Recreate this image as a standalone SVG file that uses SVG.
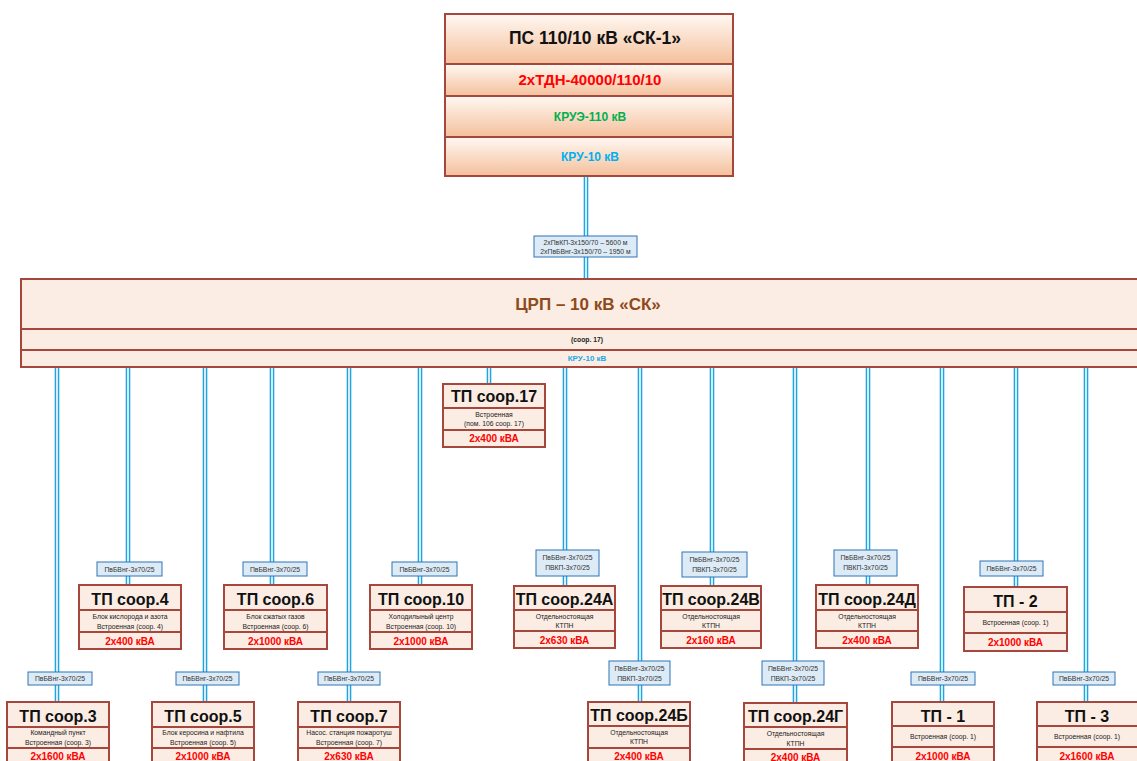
<svg xmlns="http://www.w3.org/2000/svg" width="1137" height="761" viewBox="0 0 1137 761">
<style>
text{font-family:"Liberation Sans",Arial,sans-serif;text-anchor:middle}
.box{fill:#FBEDE3;stroke:#A5473C;stroke-width:2}
.dv{stroke:#A5473C;stroke-width:2}
.sec{stroke:#A5473C;stroke-width:2;fill:url(#peach)}
.t{font-size:16px;font-weight:bold;fill:#111}
.s{font-size:6.8px;fill:#222}
.v{font-size:10px;font-weight:bold;fill:#FF0000}
.lb{fill:#DDEBF7;stroke:#2E75B6;stroke-width:1}
.lt{font-size:6.8px;fill:#333}
.c1{stroke:#1DA6E0;stroke-width:4.6;fill:none}
.c2{stroke:#FFFFFF;stroke-width:1.6;fill:none}
</style>
<defs>
<linearGradient id="peach" x1="0" y1="0" x2="0" y2="1">
<stop offset="0" stop-color="#FFF8F3"/>
<stop offset="1" stop-color="#F4C09B"/>
</linearGradient>
</defs>
<rect width="1137" height="761" fill="#FFFFFF"/>

<g id="connectors">
<path class="c1" d="M586 176V279M57 367V702M128 367V585M205 367V702M272 367V585M349 367V702M420 367V585M489 367V384M565 367V585M640 367V702M712 367V585M795 367V702M868 367V585M942 367V702M1016 367V587M1086 367V702"/>
<path class="c2" d="M586 176V279M57 367V702M128 367V585M205 367V702M272 367V585M349 367V702M420 367V585M489 367V384M565 367V585M640 367V702M712 367V585M795 367V702M868 367V585M942 367V702M1016 367V587M1086 367V702"/>
<g id="cable-labels">
<rect class="lb" x="534" y="236" width="103" height="21"/>
<text class="lt" x="585.5" y="244.5">2хПвКП-3х150/70 – 5600 м</text>
<text class="lt" x="585.5" y="253.5">2хПвБВнг-3х150/70 – 1950 м</text>
<rect class="lb" x="97" y="562" width="65" height="14"/><text class="lt" x="129.5" y="571.5">ПвБВнг-3х70/25</text>
<rect class="lb" x="243" y="562" width="64" height="14"/><text class="lt" x="275" y="571.5">ПвБВнг-3х70/25</text>
<rect class="lb" x="392" y="562" width="65" height="14"/><text class="lt" x="424.5" y="571.5">ПвБВнг-3х70/25</text>
<rect class="lb" x="536" y="550" width="63" height="26"/><text class="lt" x="567.5" y="560">ПвБВнг-3х70/25</text><text class="lt" x="567.5" y="570">ПВКП-3х70/25</text>
<rect class="lb" x="682" y="552" width="65" height="25"/><text class="lt" x="714.5" y="562">ПвБВнг-3х70/25</text><text class="lt" x="714.5" y="572">ПВКП-3х70/25</text>
<rect class="lb" x="834" y="550" width="63" height="26"/><text class="lt" x="865.5" y="560">ПвБВнг-3х70/25</text><text class="lt" x="865.5" y="570">ПВКП-3х70/25</text>
<rect class="lb" x="980" y="561" width="63" height="15"/><text class="lt" x="1011.5" y="571">ПвБВнг-3х70/25</text>
<rect class="lb" x="28" y="672" width="64" height="13"/><text class="lt" x="60" y="681">ПвБВнг-3х70/25</text>
<rect class="lb" x="176" y="672" width="63" height="13"/><text class="lt" x="207.5" y="681">ПвБВнг-3х70/25</text>
<rect class="lb" x="318" y="672" width="62" height="13"/><text class="lt" x="349" y="681">ПвБВнг-3х70/25</text>
<rect class="lb" x="609" y="661" width="61" height="24"/><text class="lt" x="639.5" y="670.5">ПвБВнг-3х70/25</text><text class="lt" x="639.5" y="680.5">ПВКП-3х70/25</text>
<rect class="lb" x="762" y="661" width="62" height="24"/><text class="lt" x="793" y="670.5">ПвБВнг-3х70/25</text><text class="lt" x="793" y="680.5">ПВКП-3х70/25</text>
<rect class="lb" x="911" y="672" width="64" height="13"/><text class="lt" x="943" y="681">ПвБВнг-3х70/25</text>
<rect class="lb" x="1053" y="672" width="62" height="13"/><text class="lt" x="1084" y="681">ПвБВнг-3х70/25</text>
</g>
</g>

<g id="ps-110">
<rect class="sec" x="445" y="14" width="288" height="50"/>
<rect class="sec" x="445" y="64" width="288" height="32"/>
<rect class="sec" x="445" y="96" width="288" height="41"/>
<rect class="sec" x="445" y="137" width="288" height="39"/>
<text x="595" y="44" style="font-size:17.5px;font-weight:bold;fill:#111">ПС 110/10 кВ «СК-1»</text>
<text x="590" y="85" style="font-size:15px;font-weight:bold;fill:#FF0000">2хТДН-40000/110/10</text>
<text x="590" y="121" style="font-size:12px;font-weight:bold;fill:#00B050">КРУЭ-110 кВ</text>
<text x="590" y="161" style="font-size:12px;font-weight:bold;fill:#00B0F0">КРУ-10 кВ</text>
</g>

<g id="crp">
<rect class="box" x="21" y="279" width="1125" height="88"/>
<line class="dv" x1="21" y1="329" x2="1137" y2="329"/>
<line class="dv" x1="21" y1="350" x2="1137" y2="350"/>
<text x="588" y="310" style="font-size:17px;font-weight:bold;fill:#8E4A1C">ЦРП – 10 кВ «СК»</text>
<text x="587" y="342" style="font-size:6.8px;font-weight:bold;fill:#222">(соор. 17)</text>
<text x="587" y="361" style="font-size:8px;font-weight:bold;fill:#1DA6E8">КРУ-10 кВ</text>
</g>

<g id="tp17">
<rect class="box" x="443" y="384" width="102" height="63"/>
<line class="dv" x1="443" y1="408" x2="545" y2="408"/><line class="dv" x1="443" y1="430" x2="545" y2="430"/>
<text class="t" x="494" y="402">ТП соор.17</text>
<text class="s" x="494" y="417">Встроенная</text>
<text class="s" x="494" y="425.5">(пом. 106 соор. 17)</text>
<text class="v" x="494" y="442">2х400 кВА</text>
</g>

<g id="tp4">
<rect class="box" x="79" y="585" width="102" height="64"/>
<line class="dv" x1="79" y1="610" x2="181" y2="610"/><line class="dv" x1="79" y1="632" x2="181" y2="632"/>
<text class="t" x="130" y="605">ТП соор.4</text>
<text class="s" x="130" y="619">Блок кислорода и азота</text>
<text class="s" x="130" y="629">Встроенная (соор. 4)</text>
<text class="v" x="130" y="644.5">2х400 кВА</text>
</g>

<g id="tp6">
<rect class="box" x="224" y="585" width="103" height="64"/>
<line class="dv" x1="224" y1="610" x2="327" y2="610"/><line class="dv" x1="224" y1="632" x2="327" y2="632"/>
<text class="t" x="275.5" y="605">ТП соор.6</text>
<text class="s" x="275.5" y="619">Блок сжатых газов</text>
<text class="s" x="275.5" y="629">Встроенная (соор. 6)</text>
<text class="v" x="275.5" y="644.5">2х1000 кВА</text>
</g>

<g id="tp10">
<rect class="box" x="370" y="585" width="102" height="64"/>
<line class="dv" x1="370" y1="610" x2="472" y2="610"/><line class="dv" x1="370" y1="632" x2="472" y2="632"/>
<text class="t" x="421" y="605">ТП соор.10</text>
<text class="s" x="421" y="619">Холодилыный центр</text>
<text class="s" x="421" y="629">Встроенная (соор. 10)</text>
<text class="v" x="421" y="644.5">2х1000 кВА</text>
</g>

<g id="tp24a">
<rect class="box" x="514" y="586" width="101" height="62"/>
<line class="dv" x1="514" y1="610" x2="615" y2="610"/><line class="dv" x1="514" y1="631" x2="615" y2="631"/>
<text class="t" x="564.5" y="605">ТП соор.24А</text>
<text class="s" x="564.5" y="618.5">Отдельностоящая</text>
<text class="s" x="564.5" y="628">КТПН</text>
<text class="v" x="564.5" y="643.5">2х630 кВА</text>
</g>

<g id="tp24v">
<rect class="box" x="661" y="586" width="100" height="62"/>
<line class="dv" x1="661" y1="610" x2="761" y2="610"/><line class="dv" x1="661" y1="631" x2="761" y2="631"/>
<text class="t" x="711" y="605">ТП соор.24В</text>
<text class="s" x="711" y="618.5">Отдельностоящая</text>
<text class="s" x="711" y="628">КТПН</text>
<text class="v" x="711" y="643.5">2х160 кВА</text>
</g>

<g id="tp24d">
<rect class="box" x="816" y="585" width="102" height="63"/>
<line class="dv" x1="816" y1="610" x2="918" y2="610"/><line class="dv" x1="816" y1="631" x2="918" y2="631"/>
<text class="t" x="867" y="605">ТП соор.24Д</text>
<text class="s" x="867" y="618.5">Отдельностоящая</text>
<text class="s" x="867" y="628">КТПН</text>
<text class="v" x="867" y="643.5">2х400 кВА</text>
</g>

<g id="tp-2">
<rect class="box" x="964" y="587" width="103" height="64"/>
<line class="dv" x1="964" y1="612" x2="1067" y2="612"/><line class="dv" x1="964" y1="633" x2="1067" y2="633"/>
<text class="t" x="1015.5" y="607">ТП - 2</text>
<text class="s" x="1015.5" y="625">Встроенная (соор. 1)</text>
<text class="v" x="1015.5" y="646">2х1000 кВА</text>
</g>

<g id="tp3">
<rect class="box" x="7" y="702" width="102" height="70"/>
<line class="dv" x1="7" y1="727" x2="109" y2="727"/><line class="dv" x1="7" y1="748" x2="109" y2="748"/>
<text class="t" x="58" y="722">ТП соор.3</text>
<text class="s" x="58" y="735">Командный пункт</text>
<text class="s" x="58" y="745">Встроенная (соор. 3)</text>
<text class="v" x="58" y="760">2х1600 кВА</text>
</g>

<g id="tp5">
<rect class="box" x="152" y="702" width="102" height="70"/>
<line class="dv" x1="152" y1="727" x2="254" y2="727"/><line class="dv" x1="152" y1="748" x2="254" y2="748"/>
<text class="t" x="203" y="722">ТП соор.5</text>
<text class="s" x="203" y="735">Блок керосина и нафтила</text>
<text class="s" x="203" y="745">Встроенная (соор. 5)</text>
<text class="v" x="203" y="760">2х1000 кВА</text>
</g>

<g id="tp7">
<rect class="box" x="298" y="702" width="102" height="70"/>
<line class="dv" x1="298" y1="727" x2="400" y2="727"/><line class="dv" x1="298" y1="748" x2="400" y2="748"/>
<text class="t" x="349" y="722">ТП соор.7</text>
<text class="s" x="349" y="735">Насос. станция пожаротуш</text>
<text class="s" x="349" y="745">Встроенная (соор. 7)</text>
<text class="v" x="349" y="760">2х630 кВА</text>
</g>

<g id="tp24b">
<rect class="box" x="588" y="702" width="102" height="70"/>
<line class="dv" x1="588" y1="726" x2="690" y2="726"/><line class="dv" x1="588" y1="748" x2="690" y2="748"/>
<text class="t" x="639" y="721">ТП соор.24Б</text>
<text class="s" x="639" y="734.5">Отдельностоящая</text>
<text class="s" x="639" y="744">КТПН</text>
<text class="v" x="639" y="760">2х400 кВА</text>
</g>

<g id="tp24g">
<rect class="box" x="744" y="703" width="103" height="70"/>
<line class="dv" x1="744" y1="727" x2="847" y2="727"/><line class="dv" x1="744" y1="749" x2="847" y2="749"/>
<text class="t" x="795.5" y="722">ТП соор.24Г</text>
<text class="s" x="795.5" y="736">Отдельностоящая</text>
<text class="s" x="795.5" y="745.5">КТПН</text>
<text class="v" x="795.5" y="761">2х400 кВА</text>
</g>

<g id="tp-1">
<rect class="box" x="892" y="702" width="102" height="70"/>
<line class="dv" x1="892" y1="726" x2="994" y2="726"/><line class="dv" x1="892" y1="747" x2="994" y2="747"/>
<text class="t" x="943" y="722">ТП - 1</text>
<text class="s" x="943" y="739">Встроенная (соор. 1)</text>
<text class="v" x="943" y="760">2х1000 кВА</text>
</g>

<g id="tp-3">
<rect class="box" x="1037" y="702" width="103" height="70"/>
<line class="dv" x1="1037" y1="726" x2="1140" y2="726"/><line class="dv" x1="1037" y1="747" x2="1140" y2="747"/>
<text class="t" x="1087" y="722">ТП - 3</text>
<text class="s" x="1087" y="739">Встроенная (соор. 1)</text>
<text class="v" x="1087" y="760">2х1600 кВА</text>
</g>
</svg>
